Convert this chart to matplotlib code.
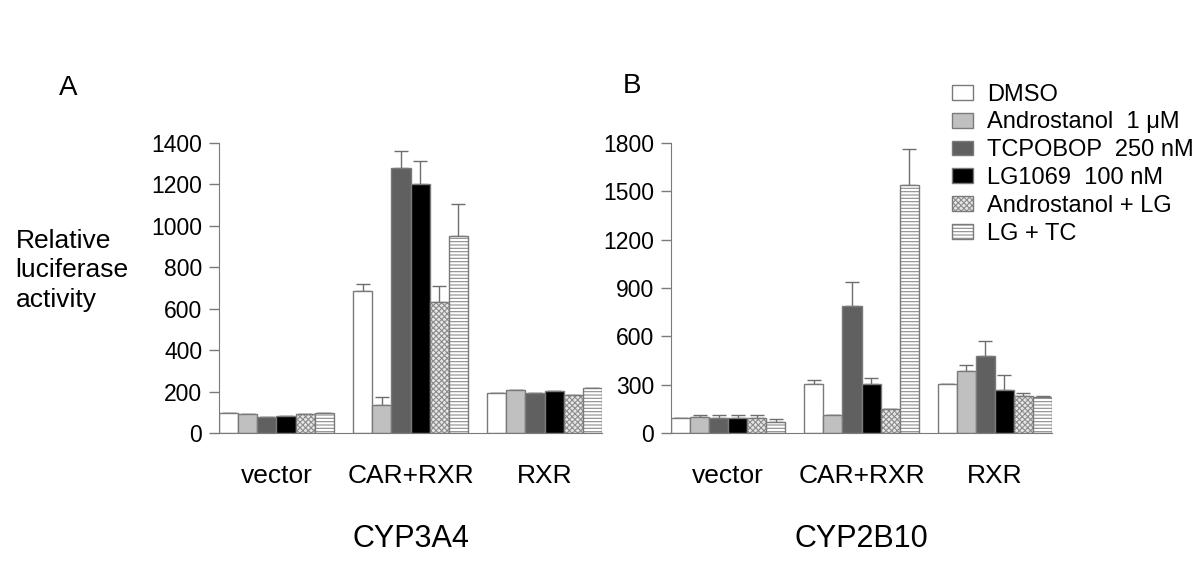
"""Relative luciferase activity, CYP3A4 and CYP2B10 reporters"""
import matplotlib.pyplot as plt

plt.rcParams['font.family'] = ['Liberation Sans', 'DejaVu Sans']
plt.rcParams['hatch.linewidth'] = 0.8

groups = ['vector', 'CAR+RXR', 'RXR']
treatments = ['DMSO', 'Androstanol  1 \u03bcM', 'TCPOBOP  250 nM', 'LG1069  100 nM',
              'Androstanol + LG', 'LG + TC']

# CYP3A4 (panel A), one list per treatment: vector, CAR+RXR, RXR
a_dmso = [95, 684, 195]
a_andro = [90, 135, 206]
a_tc = [77, 1281, 195]
a_lg = [80, 1201, 204]
a_andro_lg = [90, 631, 183]
a_lg_tc = [95, 951, 217]
a_err_dmso = [0, 34, 0]
a_err_andro = [0, 40, 0]
a_err_tc = [0, 82, 0]
a_err_lg = [0, 111, 0]
a_err_andro_lg = [0, 80, 0]
a_err_lg_tc = [0, 153, 0]

# CYP2B10 (panel B)
b_dmso = [95, 303, 307]
b_andro = [98, 112, 384]
b_tc = [95, 786, 481]
b_lg = [95, 304, 268]
b_andro_lg = [95, 147, 227]
b_lg_tc = [71, 1539, 225]
b_err_dmso = [0, 27, 0]
b_err_andro = [12, 3, 37]
b_err_tc = [16, 153, 91]
b_err_lg = [15, 36, 95]
b_err_andro_lg = [15, 0, 24]
b_err_lg_tc = [19, 224, 5]

face = ['white', '#c0c0c0', '#606060', 'black', '#e6e6e6', 'white']
hatch = [None, None, None, None, 'xxxxxx', '-----']
edge = '#7a7a7a'


def draw_panel(ax, series, errors, ymax, step, gene):
    for i, (vals, errs) in enumerate(zip(series, errors)):
        xs = [g * 7 + i + 0.5 for g in range(len(groups))]
        bars = ax.bar(xs, vals, width=1.0, color=face[i], edgecolor=edge,
                      linewidth=1.0, hatch=hatch[i], label=treatments[i], zorder=2)
        if hatch[i]:
            for b in bars:
                b._hatch_color = (0.55, 0.55, 0.55, 1.0)
        ax.errorbar(xs, vals, yerr=[[0] * len(errs), errs], fmt='none',
                    ecolor='#6e6e6e', elinewidth=1.0, capsize=5, capthick=1.0, zorder=1)
    ax.set_xlim(0, 20)
    ax.set_ylim(0, ymax)
    ax.set_yticks(range(0, ymax + 1, step))
    ax.set_xticks([3, 10, 17])
    ax.set_xticklabels(groups)
    ax.tick_params(axis='x', length=0, pad=22, labelsize=19)
    ax.tick_params(axis='y', direction='out', length=7, width=1, color='#7a7a7a',
                   labelsize=16.5, pad=5)
    for s in ['top', 'right']:
        ax.spines[s].set_visible(False)
    for s in ['left', 'bottom']:
        ax.spines[s].set_color('#7a7a7a')
    ax.set_xlabel(gene, fontsize=22, labelpad=26)


fig = plt.figure(figsize=(12, 5.8), dpi=100)
ax_a = fig.add_axes([0.1825, 0.2534, 0.3192, 0.5])
ax_b = fig.add_axes([0.5592, 0.2534, 0.3175, 0.5])

draw_panel(ax_a, [a_dmso, a_andro, a_tc, a_lg, a_andro_lg, a_lg_tc],
           [a_err_dmso, a_err_andro, a_err_tc, a_err_lg, a_err_andro_lg, a_err_lg_tc],
           1400, 200, 'CYP3A4')
draw_panel(ax_b, [b_dmso, b_andro, b_tc, b_lg, b_andro_lg, b_lg_tc],
           [b_err_dmso, b_err_andro, b_err_tc, b_err_lg, b_err_andro_lg, b_err_lg_tc],
           1800, 300, 'CYP2B10')

fig.text(0.049, 0.848, 'A', fontsize=20, va='center')
fig.text(0.519, 0.851, 'B', fontsize=20, va='center')
fig.text(0.013, 0.534, 'Relative\nluciferase\nactivity', fontsize=19, va='center',
         ha='left', linespacing=1.3)

handles, labels = ax_b.get_legend_handles_labels()
fig.legend(handles, labels, loc='upper left', bbox_to_anchor=(0.793, 0.856),
           frameon=False, fontsize=17, handlelength=0.9, handleheight=0.6,
           handletextpad=0.6, labelspacing=0.25, borderaxespad=0, borderpad=0)

fig.savefig('out.png', dpi=100)
